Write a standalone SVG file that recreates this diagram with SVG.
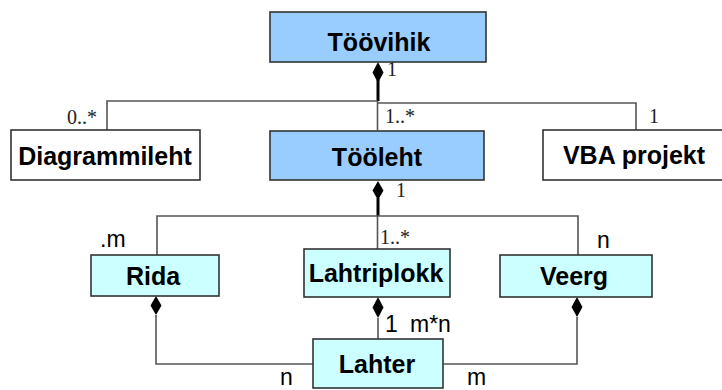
<svg xmlns="http://www.w3.org/2000/svg" width="722" height="390" viewBox="0 0 722 390">
  <style>
    .box { stroke: #333; stroke-width: 1.6; }
    .main { fill: #99ccff; }
    .plain { fill: #ffffff; }
    .part { fill: #ccffff; }
    .name { font-family: "Liberation Sans", Arial, sans-serif; font-weight: bold; font-size: 25px; fill: #000; text-anchor: middle; }
    .line { fill: none; stroke: #555; stroke-width: 1.6; }
    .thick { fill: none; stroke: #000; stroke-width: 3; }
    .dia { fill: #000; stroke: none; }
    .mult { font-family: "Liberation Serif", "Times New Roman", serif; font-size: 20px; fill: #222; }
    .card { font-family: "Liberation Sans", Arial, sans-serif; font-size: 23px; fill: #000; }
  </style>

  <!-- connectors -->
  <g id="connectors">
    <!-- Töövihik composition -->
    <path class="thick" d="M378 80 V101"/>
    <polygon class="dia" points="378,62 383.5,72.5 378,83 372.5,72.5"/>
    <path class="line" d="M107 130 V101 H378"/>
    <path class="line" d="M377.5 101 V130"/>
    <path class="line" d="M378 103 H636 V130"/>
    <!-- Tööleht composition -->
    <path class="thick" d="M378 198 V216"/>
    <polygon class="dia" points="378,181 383.5,190.5 378,200 372.5,190.5"/>
    <path class="line" d="M157 255 V216 H578 V255"/>
    <path class="line" d="M377.5 216 V249"/>
    <!-- Rida to Lahter -->
    <polygon class="dia" points="156,296 161.5,305.5 156,315 150.5,305.5"/>
    <path class="line" d="M156 315 V364 H313"/>
    <!-- Lahtriplokk to Lahter -->
    <polygon class="dia" points="378,297 383.5,307.5 378,318 372.5,307.5"/>
    <path class="line" d="M378 318 V339"/>
    <!-- Veerg to Lahter -->
    <polygon class="dia" points="577,297 582.5,307 577,317 571.5,307"/>
    <path class="line" d="M577 317 V364 H443"/>
  </g>

  <!-- multiplicities -->
  <g id="labels">
    <text class="mult" x="97" y="124" text-anchor="end">0..*</text>
    <text class="mult" x="387" y="76" font-size="16">1</text>
    <text class="mult" x="385" y="123">1..*</text>
    <text class="mult" x="649" y="123">1</text>
    <text class="mult" x="396" y="197" font-size="18">1</text>
    <text class="mult" x="380" y="244">1..*</text>
    <text class="card" x="100" y="247">.m</text>
    <text class="card" x="597" y="248">n</text>
    <text class="card" x="385" y="332">1</text>
    <text class="card" x="410" y="332">m*n</text>
    <text class="card" x="280" y="385" font-size="22">n</text>
    <text class="card" x="467" y="385" font-size="22">m</text>
  </g>

  <g id="toovihik">
    <rect class="box main" x="270" y="12" width="216" height="50" stroke-width="2"/>
    <text class="name" x="379" y="51">Töövihik</text>
  </g>
  <g id="diagrammileht">
    <rect class="box plain" x="11" y="130" width="189" height="50"/>
    <text class="name" x="105" y="165">Diagrammileht</text>
  </g>
  <g id="tooleht">
    <rect class="box main" x="270" y="131" width="214" height="49" stroke="#111" stroke-width="3"/>
    <text class="name" x="377" y="166">Tööleht</text>
  </g>
  <g id="vba-projekt">
    <rect class="box plain" x="543" y="130" width="190" height="50"/>
    <text class="name" x="634" y="164">VBA projekt</text>
  </g>
  <g id="rida">
    <rect class="box part" x="91" y="255" width="128" height="41"/>
    <text class="name" x="153" y="285">Rida</text>
  </g>
  <g id="lahtriplokk">
    <rect class="box part" x="304" y="249" width="146" height="48"/>
    <text class="name" x="376" y="282">Lahtriplokk</text>
  </g>
  <g id="veerg">
    <rect class="box part" x="500" y="255" width="152" height="42"/>
    <text class="name" x="574" y="285">Veerg</text>
  </g>
  <g id="lahter">
    <rect class="box part" x="313" y="339" width="130" height="49"/>
    <text class="name" x="377" y="373">Lahter</text>
  </g>
</svg>
